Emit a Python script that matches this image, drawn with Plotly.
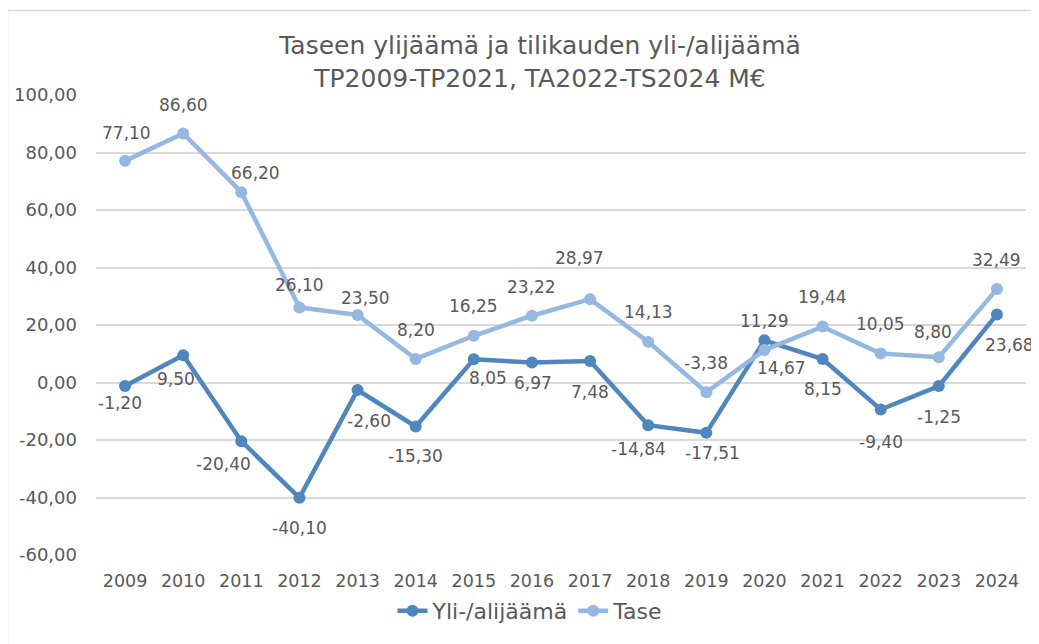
import plotly.graph_objects as go

years = [str(y) for y in range(2009, 2025)]
yli = [-1.20, 9.50, -20.40, -40.10, -2.60, -15.30, 8.05, 6.97, 7.48, -14.84, -17.51, 14.67, 8.15, -9.40, -1.25, 23.68]
tase = [77.10, 86.60, 66.20, 26.10, 23.50, 8.20, 16.25, 23.22, 28.97, 14.13, -3.38, 11.29, 19.44, 10.05, 8.80, 32.49]
y_ticks = [-60, -40, -20, 0, 20, 40, 60, 80, 100]

title_text = "Taseen ylijäämä ja tilikauden yli-/alijäämä<br>TP2009-TP2021, TA2022-TS2024 M€"

# label placement offsets in pixels (dx, dy), style only
yli_label_off = [(-5, 17), (-7, 24), (-18, 23), (0, 30), (11, 31), (0, 30), (14, 19), (1, 21),
                 (0, 31), (-10, 24), (6, 20), (17, 28), (0, 30), (0, 32), (0, 31), (13, 31)]
tase_label_off = [(1, -28), (0, -29), (14, -19), (0, -22), (8, -17), (0, -29), (0, -30), (0, -29),
                  (-11, -41), (0, -30), (0, -29), (0, -29), (0, -30), (0, -30), (-6, -25), (0, -29)]

def fi(v):
    return f"{v:.2f}".replace(".", ",")

FONT = "DejaVu Sans"
GREY = "#595959"
DARK = "#4F86BD"
LIGHT = "#95B8E0"

fig = go.Figure()
fig.add_trace(go.Scatter(
    x=years, y=yli, name="Yli-/alijäämä", mode="lines+markers",
    line=dict(color=DARK, width=4.5), marker=dict(size=12, color=DARK), cliponaxis=False,
))
fig.add_trace(go.Scatter(
    x=years, y=tase, name="Tase", mode="lines+markers",
    line=dict(color=LIGHT, width=4.5), marker=dict(size=12, color=LIGHT), cliponaxis=False,
))

for series, offs in ((yli, yli_label_off), (tase, tase_label_off)):
    for i, (v, (dx, dy)) in enumerate(zip(series, offs)):
        fig.add_annotation(x=i, y=v, text=fi(v), showarrow=False,
                           xshift=dx, yshift=-dy,
                           font=dict(family=FONT, size=17, color=GREY))

# page body has an 8px margin; work in reference pixels shifted by it
OFF = 8
W, H = 1039 - OFF, 644 - OFF
L, R, T, B = 96 - OFF, 13, 95 - OFF, 89
pw, ph = W - L - R, H - T - B
def px_to_paper_x(px): return (px - OFF - L) / pw
def px_to_paper_y(py): return (H - B - (py - OFF)) / ph

fig.update_layout(
    width=W, height=H,
    margin=dict(l=L, r=R, t=T, b=B),
    paper_bgcolor="white", plot_bgcolor="white",
    font=dict(family=FONT, color=GREY),
    title=dict(text=title_text, x=(540 - OFF) / W, xanchor="center", xref="container",
               y=1 - (54 - OFF) / H, yanchor="middle", yref="container",
               font=dict(family=FONT, size=25, color=GREY)),
    xaxis=dict(type="category", range=[-0.5, len(years) - 0.5],
               showgrid=False, showline=False, ticks="",
               automargin=False, ticklabelstandoff=13,
               tickfont=dict(family=FONT, size=17.5, color=GREY)),
    yaxis=dict(range=[-60, 100], tickvals=y_ticks, ticktext=[fi(v) for v in y_ticks],
               showgrid=True, gridcolor="#D9D9D9", gridwidth=1.5,
               zeroline=False, showline=False, ticks="", automargin=False,
               ticklabelstandoff=18,
               tickfont=dict(family=FONT, size=18, color=GREY)),
    legend=dict(orientation="h", x=(530 - OFF) / W, xanchor="center", xref="container",
                y=1 - (611 - OFF) / H, yanchor="middle", yref="container",
                font=dict(family=FONT, size=22, color=GREY)),
    showlegend=True,
)
# chart frame: only top and left edges are visible in the reference crop
fig.add_shape(type="line", xref="paper", yref="paper",
              x0=px_to_paper_x(7.5), x1=px_to_paper_x(1045),
              y0=px_to_paper_y(10.5), y1=px_to_paper_y(10.5),
              line=dict(color="#D9D9D9", width=1.5), layer="below")
fig.add_shape(type="line", xref="paper", yref="paper",
              x0=px_to_paper_x(7.5), x1=px_to_paper_x(7.5),
              y0=px_to_paper_y(650), y1=px_to_paper_y(10.5),
              line=dict(color="#D9D9D9", width=1.5), layer="below")

fig.write_html("out.html")
